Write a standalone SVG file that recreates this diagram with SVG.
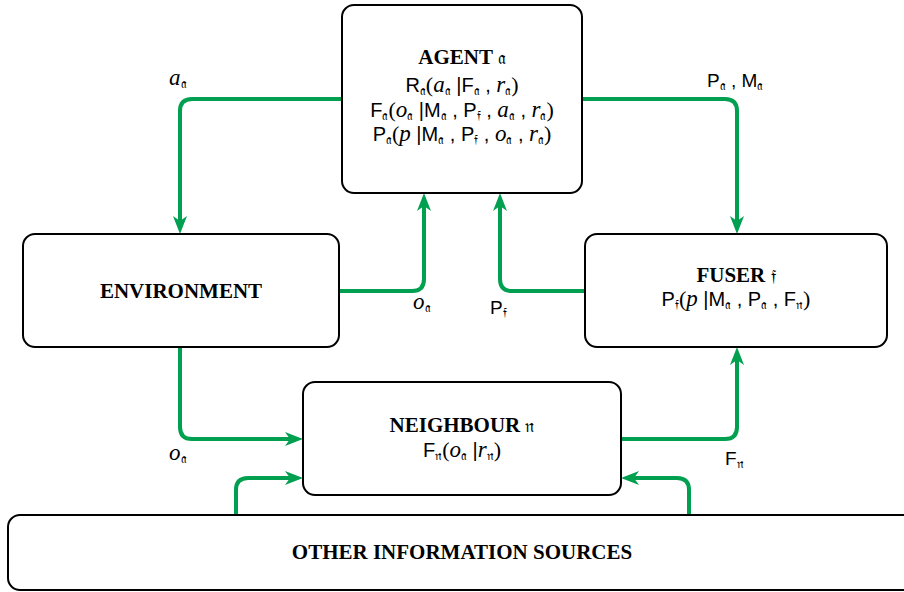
<svg xmlns="http://www.w3.org/2000/svg" width="904" height="592" viewBox="0 0 904 592">
<style>
.box{fill:#fff;stroke:#000;stroke-width:2}
.con{fill:none;stroke:#00A050;stroke-width:4;marker-end:url(#ah)}
.t{font-family:"Liberation Serif",serif;font-weight:bold;font-size:21px;text-anchor:middle;fill:#000}
.f{font-family:"Liberation Sans",sans-serif;font-size:20px;text-anchor:middle;fill:#000}
.l{font-family:"Liberation Sans",sans-serif;font-size:19px;fill:#000}
.i{font-family:"Liberation Serif",serif;font-style:italic;font-size:23px}
.p{font-family:"Liberation Serif",serif;font-size:22px}
.s{font-family:"DejaVu Serif","DejaVu Sans",serif;font-size:13px;font-style:normal;font-weight:normal}
.k{font-family:"DejaVu Serif","DejaVu Sans",serif;font-size:18px;font-weight:normal}
</style>
<defs>
<marker id="ah" markerUnits="userSpaceOnUse" markerWidth="20" markerHeight="16" refX="8" refY="7" orient="auto">
<path d="M0,0 L18,7 L0,14 L5,7 z" fill="#00A050"/>
</marker>
</defs>
<g id="connectors">
<path class="con" d="M342,99 H192 Q180,99 180,111 V224"/>
<path class="con" d="M339,291 H412 Q424,291 424,279 V203"/>
<path class="con" d="M585,291 H512 Q500,291 500,279 V203"/>
<path class="con" d="M582,99 H725 Q737,99 737,111 V224"/>
<path class="con" d="M180,347 V427 Q180,439 192,439 H293"/>
<path class="con" d="M621,439 H725 Q737,439 737,427 V357"/>
<path class="con" d="M236,515 V490 Q236,478 248,478 H293"/>
<path class="con" d="M689,515 V490 Q689,478 677,478 H631"/>
<text class="l" x="169" y="85"><tspan class="i">a</tspan><tspan class="s" dy="3">𝔞</tspan></text>
<text class="l" x="707" y="87">P<tspan class="s" dy="3">𝔞</tspan><tspan dy="-3"> , M</tspan><tspan class="s" dy="3">𝔞</tspan></text>
<text class="l" x="413" y="309"><tspan class="i">o</tspan><tspan class="s" dy="3">𝔞</tspan></text>
<text class="l" x="490" y="314">P<tspan class="s" dy="3">𝔣</tspan></text>
<text class="l" x="169" y="460"><tspan class="i">o</tspan><tspan class="s" dy="3">𝔞</tspan></text>
<text class="l" x="725" y="465">F<tspan class="s" dy="3">𝔫</tspan></text>
</g>
<g id="agent">
<rect class="box" x="342" y="5" width="240" height="188" rx="12"/>
<text class="t" x="462" y="64">AGENT <tspan class="k">𝔞</tspan></text>
<text class="f" x="462" y="92">R<tspan class="s" dy="3">𝔞</tspan><tspan class="p" dy="-3">(</tspan><tspan class="i">a</tspan><tspan class="s" dy="3">𝔞</tspan><tspan dy="-3"> |F</tspan><tspan class="s" dy="3">𝔞</tspan><tspan dy="-3"> , </tspan><tspan class="i">r</tspan><tspan class="s" dy="3">𝔞</tspan><tspan class="p" dy="-3">)</tspan></text>
<text class="f" x="462" y="117">F<tspan class="s" dy="3">𝔞</tspan><tspan class="p" dy="-3">(</tspan><tspan class="i">o</tspan><tspan class="s" dy="3">𝔞</tspan><tspan dy="-3"> |M</tspan><tspan class="s" dy="3">𝔞</tspan><tspan dy="-3"> , P</tspan><tspan class="s" dy="3">𝔣</tspan><tspan dy="-3"> , </tspan><tspan class="i">a</tspan><tspan class="s" dy="3">𝔞</tspan><tspan dy="-3"> , </tspan><tspan class="i">r</tspan><tspan class="s" dy="3">𝔞</tspan><tspan class="p" dy="-3">)</tspan></text>
<text class="f" x="462" y="141">P<tspan class="s" dy="3">𝔞</tspan><tspan class="p" dy="-3">(</tspan><tspan class="i">p</tspan><tspan> |M</tspan><tspan class="s" dy="3">𝔞</tspan><tspan dy="-3"> , P</tspan><tspan class="s" dy="3">𝔣</tspan><tspan dy="-3"> , </tspan><tspan class="i">o</tspan><tspan class="s" dy="3">𝔞</tspan><tspan dy="-3"> , </tspan><tspan class="i">r</tspan><tspan class="s" dy="3">𝔞</tspan><tspan class="p" dy="-3">)</tspan></text>
</g>
<g id="environment">
<rect class="box" x="23" y="234" width="316" height="113" rx="12"/>
<text class="t" x="181" y="298">ENVIRONMENT</text>
</g>
<g id="fuser">
<rect class="box" x="585" y="234" width="302" height="113" rx="12"/>
<text class="t" x="736" y="282">FUSER <tspan class="k">𝔣</tspan></text>
<text class="f" x="736" y="306">P<tspan class="s" dy="3">𝔣</tspan><tspan class="p" dy="-3">(</tspan><tspan class="i">p</tspan><tspan> |M</tspan><tspan class="s" dy="3">𝔞</tspan><tspan dy="-3"> , P</tspan><tspan class="s" dy="3">𝔞</tspan><tspan dy="-3"> , F</tspan><tspan class="s" dy="3">𝔫</tspan><tspan class="p" dy="-3">)</tspan></text>
</g>
<g id="neighbour">
<rect class="box" x="303" y="382" width="318" height="113" rx="12"/>
<text class="t" x="462" y="432">NEIGHBOUR <tspan class="k">𝔫</tspan></text>
<text class="f" x="462" y="457">F<tspan class="s" dy="3">𝔫</tspan><tspan class="p" dy="-3">(</tspan><tspan class="i">o</tspan><tspan class="s" dy="3">𝔞</tspan><tspan dy="-3"> |</tspan><tspan class="i">r</tspan><tspan class="s" dy="3">𝔫</tspan><tspan class="p" dy="-3">)</tspan></text>
</g>
<g id="other">
<rect class="box" x="8" y="515" width="910" height="75" rx="12"/>
<text class="t" x="462" y="559">OTHER INFORMATION SOURCES</text>
</g>
</svg>
